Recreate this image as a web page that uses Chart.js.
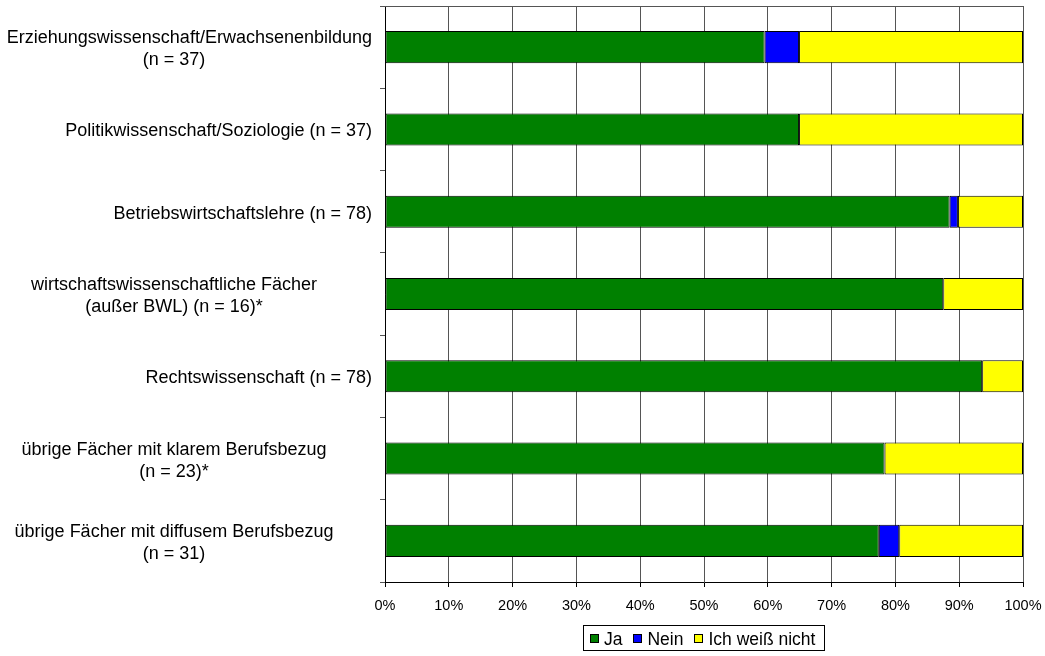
<!DOCTYPE html>
<html>
<head>
<meta charset="utf-8">
<script src="https://cdn.jsdelivr.net/npm/chart.js@4"></script>
<style>
  html, body { margin: 0; padding: 0; background: #fff; }
  #wrap { width: 1045px; height: 656px; }
</style>
</head>
<body>
<div id="wrap"><canvas id="chart" width="1045" height="656"></canvas></div>
<script>
// categories (multi-line labels as arrays)
const categories = [
  ['Erziehungswissenschaft/Erwachsenenbildung', '(n = 37)'],
  ['Politikwissenschaft/Soziologie (n = 37)'],
  ['Betriebswirtschaftslehre (n = 78)'],
  ['wirtschaftswissenschaftliche Fächer', '(außer BWL) (n = 16)*'],
  ['Rechtswissenschaft (n = 78)'],
  ['übrige Fächer mit klarem Berufsbezug', '(n = 23)*'],
  ['übrige Fächer mit diffusem Berufsbezug', '(n = 31)']
];

// shares in percent
const ja     = [59.5, 64.9, 88.5, 87.5, 93.6, 78.3, 77.4];
const nein   = [5.4, 0, 1.3, 0, 0, 0, 3.2];
const weissNicht = [35.1, 35.1, 10.2, 12.5, 6.4, 21.7, 19.4];

const seriesNames = ['Ja', 'Nein', 'Ich weiß nicht'];
const xTicks = [0, 10, 20, 30, 40, 50, 60, 70, 80, 90, 100];

const FONT = '"Liberation Sans", Arial, sans-serif';

// category labels: single lines right aligned, wrapped ones centred
const catLabels = {
  id: 'catLabels',
  afterDraw(chart) {
    const ctx = chart.ctx;
    const y = chart.scales.y;
    const right = 372;
    ctx.save();
    ctx.font = '18px ' + FONT;
    ctx.fillStyle = '#000';
    ctx.textBaseline = 'alphabetic';
    categories.forEach((lines, i) => {
      const cy = y.getPixelForValue(i);
      if (lines.length === 1) {
        ctx.textAlign = 'right';
        ctx.fillText(lines[0], right, cy + 7);
        return;
      }
      ctx.textAlign = 'center';
      lines.forEach((l, j) => {
        const w = ctx.measureText(l).width;
        const cx = w > 340 ? right - w / 2 : 174;
        ctx.fillText(l, cx, cy + 7 + (j - (lines.length - 1) / 2) * 22);
      });
    });
    ctx.restore();
  }
};

// top border of the plot area
const frame = {
  id: 'frame',
  afterDraw(chart) {
    const a = chart.chartArea;
    const ctx = chart.ctx;
    ctx.save();
    ctx.strokeStyle = '#555';
    ctx.lineWidth = 1;
    ctx.beginPath();
    ctx.moveTo(a.left, Math.round(a.top) + 0.5);
    ctx.lineTo(a.right + 0.5, Math.round(a.top) + 0.5);
    ctx.stroke();
    ctx.restore();
  }
};

// boxed legend centred under the plot area
const boxLegend = {
  id: 'boxLegend',
  afterDraw(chart) {
    const ctx = chart.ctx;
    const a = chart.chartArea;
    const sq = 9, gapText = 5, gapItem = 11, padL = 7, padR = 9;
    ctx.save();
    ctx.font = '17.5px ' + FONT;
    const items = chart.data.datasets.map(d => ({
      label: d.label, color: d.backgroundColor, w: ctx.measureText(d.label).width
    }));
    let total = padL + padR;
    items.forEach((it, i) => { total += sq + gapText + it.w + (i ? gapItem : 0); });
    const left = Math.round((a.left + a.right) / 2 - total / 2);
    const top = 625, h = 25;
    ctx.strokeStyle = '#000';
    ctx.lineWidth = 1;
    ctx.strokeRect(left + 0.5, top + 0.5, Math.round(total), h);
    let x = left + padL;
    ctx.textBaseline = 'alphabetic';
    ctx.textAlign = 'left';
    items.forEach((it, i) => {
      if (i) x += gapItem;
      ctx.fillStyle = it.color;
      ctx.fillRect(Math.round(x), top + 9, sq, sq);
      ctx.strokeRect(Math.round(x) + 0.5, top + 9.5, sq - 1, sq - 1);
      x += sq + gapText;
      ctx.fillStyle = '#000';
      ctx.fillText(it.label, x, top + 20);
      x += it.w;
    });
    ctx.restore();
  }
};

const barStyle = { borderColor: '#000', borderWidth: 1, borderSkipped: false,
  barPercentage: 0.39, categoryPercentage: 1 };

new Chart(document.getElementById('chart'), {
  type: 'bar',
  data: {
    labels: categories.map(c => c.join(' ')),
    datasets: [
      { label: seriesNames[0], data: ja, backgroundColor: '#008000', ...barStyle },
      { label: seriesNames[1], data: nein, backgroundColor: '#0000FF', ...barStyle },
      { label: seriesNames[2], data: weissNicht, backgroundColor: '#FFFF00', ...barStyle }
    ]
  },
  options: {
    indexAxis: 'y',
    responsive: false,
    animation: false,
    layout: { padding: { left: 0, top: 6, right: 22, bottom: 34 } },
    plugins: { legend: { display: false }, tooltip: { enabled: false } },
    scales: {
      x: {
        stacked: true,
        min: 0, max: 100,
        afterBuildTicks: s => { s.ticks = xTicks.map(v => ({ value: v })); },
        afterFit: s => { s.height = 40; s.paddingLeft = 0; s.paddingRight = 0; },
        ticks: { callback: v => v + '%', color: '#000', padding: 10,
          font: { family: FONT, size: 14.5 }, maxRotation: 0 },
        grid: { color: '#555', tickColor: '#000', tickLength: 5 },
        border: { color: '#000' }
      },
      y: {
        stacked: true,
        afterFit: s => { s.width = 385; },
        ticks: { display: false },
        grid: { drawOnChartArea: false, color: '#555', tickLength: 5, offset: true },
        border: { color: '#000' }
      }
    }
  },
  plugins: [catLabels, frame, boxLegend]
});
</script>
</body>
</html>
